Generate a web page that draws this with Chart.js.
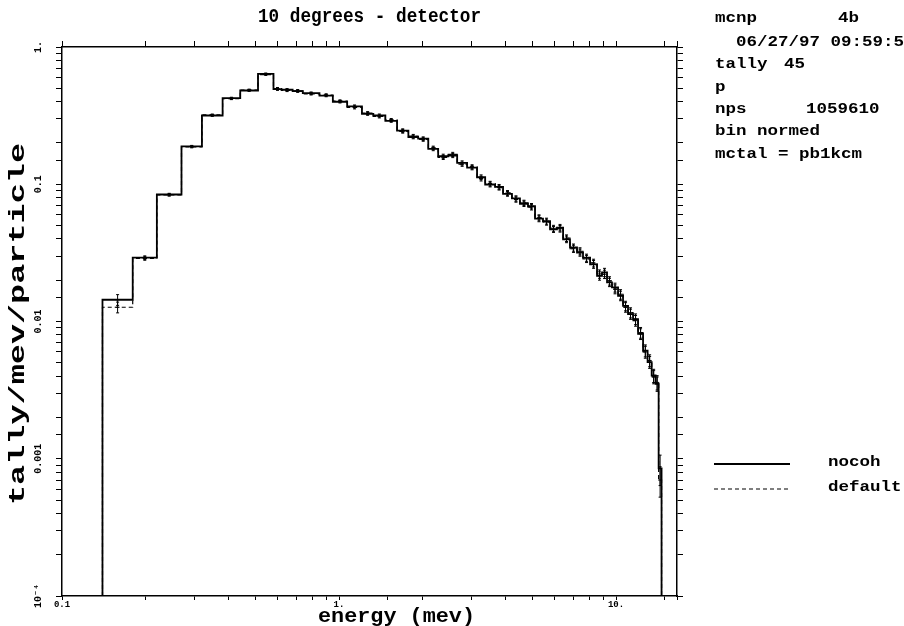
<!DOCTYPE html>
<html>
<head>
<meta charset="utf-8">
<script src="https://cdn.jsdelivr.net/npm/chart.js@4.4.0/dist/chart.umd.min.js"></script>
<style>
    html, body { margin: 0; padding: 0; background: #fff; }
    #wrap { width: 904px; height: 626px; }
</style>
</head>
<body>
<div id="wrap"><canvas id="tallyChart" width="904" height="626"></canvas></div>
<script>
// energy bin edges (mev)
const binEdges = [0.14, 0.18, 0.22, 0.27, 0.32, 0.38, 0.44, 0.51, 0.58,
    0.62, 0.68, 0.74, 0.85, 0.95, 1.07, 1.21, 1.33, 1.47, 1.62,
    1.78, 1.93, 2.10, 2.28, 2.48, 2.67, 2.90, 3.15, 3.37, 3.66,
    3.91, 4.21, 4.50, 4.81, 5.10, 5.45, 5.78, 6.12, 6.44, 6.82,
    7.23, 7.60, 8.06, 8.54, 8.90, 9.28, 9.67, 10.17, 10.6, 11.05,
    11.52, 12.01, 12.52, 13.0, 13.45, 13.9, 14.25, 14.6];

// tally/mev/particle per bin
const nocoh = [0.0144, 0.0292, 0.0842, 0.189, 0.317, 0.424, 0.482, 0.637, 0.493, 0.488,
    0.477, 0.461, 0.443, 0.399, 0.369, 0.326, 0.317, 0.290, 0.246, 0.221,
    0.215, 0.181, 0.160, 0.162, 0.143, 0.132, 0.1125, 0.0996, 0.0958, 0.0852,
    0.0788, 0.0721, 0.0693, 0.0561, 0.0539, 0.0469, 0.0483, 0.0397, 0.0346, 0.0318,
    0.0292, 0.0261, 0.0215, 0.0228, 0.0193, 0.0177, 0.0154, 0.0130, 0.01133, 0.01042,
    0.00812, 0.00614, 0.00506, 0.00404, 0.00352, 0.00085];

const defaultRun = [0.0127, 0.0288, 0.0836, 0.187, 0.320, 0.420, 0.486, 0.630, 0.497, 0.483,
    0.480, 0.456, 0.447, 0.404, 0.363, 0.330, 0.312, 0.294, 0.243, 0.224,
    0.212, 0.184, 0.157, 0.165, 0.140, 0.134, 0.110, 0.1010, 0.0945, 0.0865,
    0.0775, 0.0732, 0.0680, 0.0570, 0.0530, 0.0478, 0.0474, 0.0405, 0.0339, 0.0325,
    0.0286, 0.0267, 0.0222, 0.0221, 0.0198, 0.0172, 0.0158, 0.0127, 0.01160, 0.01015,
    0.00830, 0.00600, 0.00520, 0.00395, 0.00360, 0.00070];

// relative error per bin
const relErr = [0.09, 0.03, 0.02, 0.015, 0.015, 0.015, 0.015, 0.015, 0.02, 0.02,
    0.02, 0.02, 0.02, 0.02, 0.025, 0.025, 0.025, 0.025, 0.03, 0.03,
    0.03, 0.03, 0.035, 0.035, 0.035, 0.035, 0.04, 0.04, 0.04, 0.04,
    0.045, 0.045, 0.045, 0.05, 0.05, 0.05, 0.055, 0.055, 0.06, 0.06,
    0.06, 0.065, 0.07, 0.07, 0.07, 0.075, 0.08, 0.08, 0.085, 0.09,
    0.09, 0.10, 0.10, 0.11, 0.12, 0.25];

const xTickValues = [0.1, 1, 10];
const xTickText = ['0.1', '1.', '10.'];
const yTickValues = [1e-4, 1e-3, 1e-2, 0.1, 1];
const yTickText = ['10\u207B\u2074', '0.001', '0.01', '0.1', '1.'];

const xMin = 0.1, xMax = 16.6;
const yMin = 1e-4, yMax = 1;

const FONT = '"Liberation Mono", "DejaVu Sans Mono", monospace';

function pickLabel(v, vals, texts) {
    for (let i = 0; i < vals.length; i++) {
        if (Math.abs(v - vals[i]) / vals[i] < 1e-6) return texts[i];
    }
    return '';
}

// histogram outline: rise at first edge, drop at last edge
function stepPoints(values) {
    const pts = [{x: binEdges[0], y: yMin}];
    values.forEach((v, i) => pts.push({x: binEdges[i], y: v}));
    pts.push({x: binEdges[values.length], y: yMin});
    return pts;
}

function drawFit(ctx, str, x, y, w, size, rotated) {
    ctx.font = 'bold ' + size + 'px ' + FONT;
    const m = ctx.measureText(str).width;
    ctx.save();
    ctx.translate(x, y);
    if (rotated) ctx.rotate(-Math.PI / 2);
    ctx.scale(w / m, 1);
    ctx.textAlign = 'left';
    ctx.textBaseline = 'middle';
    ctx.fillText(str, 0, 0);
    ctx.restore();
}

function drawStretched(ctx, str, x, y) {
    ctx.font = 'bold 14px ' + FONT;
    ctx.save();
    ctx.translate(x, y);
    ctx.scale(1.25, 1);
    ctx.textAlign = 'left';
    ctx.textBaseline = 'middle';
    ctx.fillText(str, 0, 0);
    ctx.restore();
}

const errorBars = {
    id: 'errorBars',
    afterDatasetsDraw(chart) {
        const {ctx, chartArea} = chart;
        const xs = chart.scales.x, ys = chart.scales.y;
        ctx.save();
        ctx.beginPath();
        ctx.rect(chartArea.left, chartArea.top, chartArea.right - chartArea.left, chartArea.bottom - chartArea.top);
        ctx.clip();
        ctx.strokeStyle = '#000';
        ctx.lineWidth = 1;
        [nocoh, defaultRun].forEach(series => {
            series.forEach((v, i) => {
                const xc = xs.getPixelForValue(Math.sqrt(binEdges[i] * binEdges[i + 1]));
                const lo = ys.getPixelForValue(v * (1 - relErr[i]));
                const hi = ys.getPixelForValue(v * (1 + relErr[i]));
                const mid = ys.getPixelForValue(v);
                ctx.beginPath();
                ctx.moveTo(xc, lo); ctx.lineTo(xc, hi);
                ctx.moveTo(xc - 1.5, lo); ctx.lineTo(xc + 1.5, lo);
                ctx.moveTo(xc - 1.5, hi); ctx.lineTo(xc + 1.5, hi);
                ctx.moveTo(xc - 2, mid); ctx.lineTo(xc + 2, mid);
                ctx.stroke();
            });
        });
        ctx.restore();
    }
};

const annotations = {
    id: 'annotations',
    afterDraw(chart) {
        const ctx = chart.ctx;
        ctx.save();
        ctx.fillStyle = '#000';
        drawFit(ctx, '10 degrees - detector', 258, 17, 223, 20, false);
        drawFit(ctx, 'energy (mev)', 318, 617, 157, 20, false);
        drawFit(ctx, 'tally/mev/particle', 18, 505, 362, 22, true);

        drawStretched(ctx, 'mcnp', 715, 18);
        drawStretched(ctx, '4b', 838, 18);
        drawStretched(ctx, '06/27/97 09:59:5', 736, 42);
        drawStretched(ctx, 'tally', 715, 64);
        drawStretched(ctx, '45', 784, 64);
        drawStretched(ctx, 'p', 715, 87);
        drawStretched(ctx, 'nps', 715, 109);
        drawStretched(ctx, '1059610', 806, 109);
        drawStretched(ctx, 'bin normed', 715, 131);
        drawStretched(ctx, 'mctal = pb1kcm', 715, 154);

        // legend, styled like the datasets
        const ds = chart.data.datasets;
        const rows = [[ds[0], 464], [ds[1], 489]];
        rows.forEach(([d, y]) => {
            ctx.save();
            ctx.strokeStyle = d.borderColor;
            ctx.lineWidth = d.borderWidth;
            ctx.setLineDash(d.borderDash || []);
            ctx.beginPath();
            ctx.moveTo(714, y); ctx.lineTo(790, y);
            ctx.stroke();
            ctx.restore();
            drawStretched(ctx, d.label, 828, y - 2);
        });
        ctx.restore();
    }
};

const tickFont = {family: FONT, size: 10, weight: 'bold'};
const axisGrid = {drawOnChartArea: false, drawTicks: true, tickLength: 6, tickColor: '#000', tickWidth: 1};
const axisBorder = {display: true, color: '#000', width: 1.5};

new Chart(document.getElementById('tallyChart').getContext('2d'), {
    type: 'line',
    data: {
        datasets: [{
            label: 'nocoh',
            data: stepPoints(nocoh),
            borderColor: '#000',
            borderWidth: 1.8,
            stepped: true,
            pointRadius: 0,
            fill: false
        }, {
            label: 'default',
            data: stepPoints(defaultRun),
            borderColor: '#000',
            borderWidth: 1.2,
            borderDash: [4, 3],
            stepped: true,
            pointRadius: 0,
            fill: false
        }]
    },
    options: {
        responsive: false,
        animation: false,
        layout: {padding: {top: 37, right: 0, bottom: 0, left: 0}},
        plugins: {
            legend: {display: false},
            tooltip: {enabled: false},
            title: {display: false}
        },
        scales: {
            x: {
                type: 'logarithmic', position: 'bottom', min: xMin, max: xMax,
                grid: Object.assign({}, axisGrid, {tickLength: 4}), border: axisBorder,
                ticks: {
                    autoSkip: false, maxRotation: 0, minRotation: 0, padding: -1,
                    color: '#000', font: {family: FONT, size: 9, weight: 'bold'},
                    callback: v => pickLabel(v, xTickValues, xTickText)
                },
                afterFit: s => { s.height = 30; }
            },
            x2: {
                type: 'logarithmic', position: 'top', min: xMin, max: xMax,
                grid: axisGrid, border: axisBorder,
                ticks: {display: false, autoSkip: false},
                afterFit: s => { s.height = 10; }
            },
            y: {
                type: 'logarithmic', position: 'left', min: yMin, max: yMax,
                grid: axisGrid, border: axisBorder,
                ticks: {
                    autoSkip: false, minRotation: 90, maxRotation: 90, crossAlign: 'center', padding: 3,
                    color: '#000', font: tickFont,
                    callback: v => pickLabel(v, yTickValues, yTickText)
                },
                afterFit: s => { s.width = 62; }
            },
            y2: {
                type: 'logarithmic', position: 'right', min: yMin, max: yMax,
                grid: axisGrid, border: axisBorder,
                ticks: {display: false, autoSkip: false},
                afterFit: s => { s.width = 227; }
            }
        }
    },
    plugins: [errorBars, annotations]
});
</script>
</body>
</html>
